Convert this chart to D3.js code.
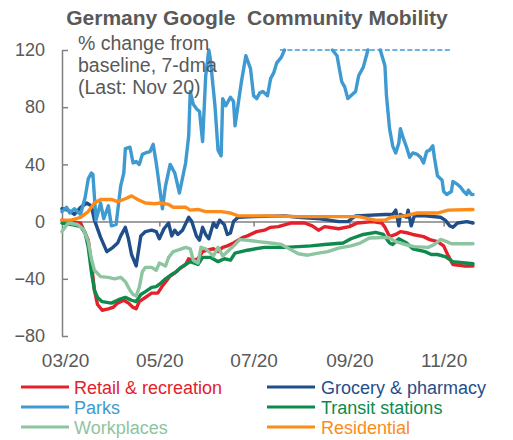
<!DOCTYPE html>
<meta charset="utf-8">
<style>
  body {
    margin: 0;
    background: #fff;
  }

  svg {
    display: block;
    font-family: "Liberation Sans", Arial, sans-serif;
  }

  .axis text {
    fill: #595959;
  }

  .axis path,
  .axis line {
    stroke: #808080;
    stroke-width: 1.5px;
  }

  .series {
    fill: none;
    stroke-width: 3.4px;
    stroke-linejoin: round;
    stroke-linecap: round;
  }
</style>
<body>
  <div id="chart"></div>
  <script src="https://d3js.org/d3.v7.min.js"></script>
  <script>

var width = 513,
    height = 440;

// % change from baseline, 7-dma as [MM-DD (2020), value]
var retail = [
  ["02-28", 1], ["03-04", 0], ["03-11", -1], ["03-16", -13], ["03-18", -29], ["03-20", -48],
  ["03-22", -58], ["03-25", -62], ["03-29", -61], ["04-01", -60], ["04-04", -57], ["04-08", -55],
  ["04-11", -57], ["04-14", -60], ["04-16", -61], ["04-18", -56], ["04-22", -53], ["04-26", -50],
  ["04-30", -50], ["05-03", -45], ["05-08", -38], ["05-11", -36], ["05-14", -33], ["05-18", -30],
  ["05-20", -26], ["05-23", -27], ["05-26", -26], ["05-29", -21], ["06-01", -20], ["06-05", -19],
  ["06-08", -21], ["06-11", -18], ["06-14", -17], ["06-18", -15], ["06-21", -13], ["06-24", -11],
  ["06-27", -10], ["07-03", -7], ["07-08", -6], ["07-12", -4], ["07-17", -3.5], ["07-25", -1],
  ["08-03", -1], ["08-08", -3], ["08-12", -6], ["08-16", -3.5], ["08-25", -5], ["09-01", -3.5],
  ["09-06", -1], ["09-16", 0], ["09-22", -1], ["09-24", -4], ["09-27", -10.5], ["10-01", -9],
  ["10-04", -7], ["10-09", -8], ["10-12", -9], ["10-19", -10.5], ["10-23", -12.6], ["10-28", -14],
  ["11-01", -17], ["11-04", -24], ["11-07", -30], ["11-14", -31], ["11-20", -31]
];

var grocery = [
  ["02-28", 9], ["03-03", 8], ["03-07", 5], ["03-11", 10], ["03-15", 13], ["03-18", 11],
  ["03-20", 1], ["03-24", -11], ["03-28", -21], ["04-01", -18], ["04-04", -15], ["04-06", -10],
  ["04-09", -4], ["04-11", -12], ["04-13", -23], ["04-16", -31], ["04-19", -10], ["04-22", -7],
  ["04-26", -6], ["04-29", -7], ["05-01", -12], ["05-04", -5], ["05-07", -1], ["05-09", -10],
  ["05-11", -6], ["05-13", -9], ["05-16", -6], ["05-20", 3], ["05-22", 0], ["05-25", -10],
  ["05-27", -13], ["05-29", -4], ["05-31", -9], ["06-02", -12], ["06-05", -1], ["06-07", -4],
  ["06-09", 1], ["06-12", -2], ["06-14", -9], ["06-16", -8], ["06-18", 0], ["06-21", 3],
  ["07-01", 3.5], ["07-21", 4], ["07-30", 3], ["08-13", 2], ["08-25", 0], ["08-31", 0],
  ["09-05", 4], ["09-24", 5], ["09-29", 5], ["10-01", 8], ["10-03", -3], ["10-04", 5],
  ["10-08", 3], ["10-09", 8], ["10-11", -3], ["10-13", 4], ["10-20", 4], ["10-30", 3],
  ["11-02", 1], ["11-05", -3], ["11-07", -4], ["11-10", -1], ["11-16", 0], ["11-20", -1]
];

// null = above the 120 axis limit, not drawn
var parks = [
  ["02-28", 7], ["03-02", 10], ["03-04", 6], ["03-07", 9], ["03-11", 5], ["03-14", 17],
  ["03-16", 30], ["03-18", 34], ["03-19", 33], ["03-21", 1], ["03-24", 13], ["03-26", 2],
  ["03-29", 11], ["03-31", -3], ["04-03", -2], ["04-06", 25], ["04-08", 34], ["04-09", 51],
  ["04-12", 52], ["04-14", 41], ["04-16", 42], ["04-18", 40], ["04-20", 47], ["04-22", 48],
  ["04-25", 49], ["04-27", 54], ["04-29", 41], ["05-01", 25], ["05-03", 9], ["05-05", 25],
  ["05-08", 40], ["05-11", 34], ["05-14", 20], ["05-18", 41], ["05-20", 60], ["05-21", 91],
  ["05-23", 82], ["05-25", 79], ["05-27", 77], ["05-29", 56], ["05-31", 102], ["06-02", 120],
  ["06-03", 114], ["06-06", 81], ["06-08", 50], ["06-10", 46], ["06-11", 86], ["06-13", 81],
  ["06-16", 87], ["06-18", 84], ["06-19", 67], ["06-21", 82], ["06-23", 97], ["06-26", 116],
  ["06-29", 107], ["07-01", 88], ["07-03", 86], ["07-05", 90], ["07-07", 91], ["07-10", 88],
  ["07-12", 100], ["07-14", 104], ["07-16", 111], ["07-19", 115], ["07-21", 120], ["08-01", null],
  ["08-21", 120], ["08-24", 116], ["08-27", 98], ["08-29", 94], ["08-31", 86], ["09-03", 89],
  ["09-05", 91], ["09-07", 102], ["09-10", 108], ["09-12", 116], ["09-13", 120], ["09-17", null],
  ["09-21", 120], ["09-24", 109], ["09-25", 88], ["09-27", 65], ["09-29", 53], ["10-01", 48],
  ["10-03", 55], ["10-04", 65], ["10-06", 58], ["10-08", 52], ["10-10", 45], ["10-12", 48],
  ["10-15", 47], ["10-17", 45], ["10-19", 41], ["10-21", 49], ["10-23", 50], ["10-25", 53],
  ["10-26", 45], ["10-28", 32], ["10-31", 29], ["11-01", 21], ["11-03", 19], ["11-06", 21],
  ["11-07", 28], ["11-10", 26], ["11-12", 24], ["11-14", 21], ["11-16", 19], ["11-17", 22],
  ["11-19", 19], ["11-20", 19]
];

var transit = [
  ["02-28", -1], ["03-05", -2], ["03-11", -3.5], ["03-14", -8], ["03-16", -18], ["03-18", -35],
  ["03-20", -48], ["03-22", -53], ["03-25", -56], ["03-31", -57], ["04-06", -54], ["04-09", -53],
  ["04-13", -55], ["04-16", -56], ["04-19", -51], ["04-22", -49], ["04-26", -46], ["04-29", -45.5],
  ["05-02", -43], ["05-05", -40], ["05-09", -37], ["05-12", -35], ["05-15", -32], ["05-18", -30],
  ["05-21", -28], ["05-26", -30], ["05-29", -25], ["06-03", -25], ["06-08", -28], ["06-12", -26],
  ["06-16", -27], ["06-19", -22], ["06-27", -20], ["07-08", -18], ["07-21", -18], ["07-30", -17.5],
  ["08-07", -17], ["08-16", -16], ["08-28", -15], ["09-02", -12], ["09-10", -9], ["09-18", -7.5],
  ["09-23", -9], ["09-27", -15], ["09-29", -16], ["10-03", -12], ["10-08", -15], ["10-12", -19],
  ["10-20", -21], ["10-24", -23], ["10-28", -23], ["11-02", -24.5], ["11-07", -28], ["11-20", -29.5]
];

var workplaces = [
  ["02-28", -7], ["03-03", -1], ["03-09", -2], ["03-13", -5.6], ["03-16", -14], ["03-18", -26],
  ["03-20", -34], ["03-24", -38.5], ["03-29", -39], ["04-02", -40], ["04-06", -39], ["04-09", -42],
  ["04-12", -48], ["04-14", -51], ["04-16", -52], ["04-18", -46], ["04-20", -35], ["04-22", -32],
  ["04-26", -32], ["04-29", -34], ["05-01", -29], ["05-05", -31], ["05-07", -25], ["05-10", -21],
  ["05-14", -19.6], ["05-18", -18], ["05-21", -19], ["05-23", -27], ["05-26", -29], ["05-28", -18],
  ["05-31", -19], ["06-05", -24], ["06-08", -18], ["06-11", -24], ["06-14", -21], ["06-19", -16],
  ["06-22", -12.6], ["06-27", -13], ["07-04", -14], ["07-12", -15], ["07-19", -16], ["07-25", -19.6],
  ["07-30", -22.5], ["08-05", -23.5], ["08-12", -22], ["08-18", -21], ["08-25", -18.5], ["09-02", -17],
  ["09-08", -15], ["09-14", -11.5], ["09-26", -11], ["10-01", -14], ["10-07", -16], ["10-13", -17.5],
  ["10-22", -18], ["10-26", -16], ["10-30", -12.5], ["11-03", -14], ["11-06", -15.5], ["11-20", -15.5]
];

var residential = [
  ["02-28", 1], ["03-05", 1], ["03-11", 3], ["03-16", 7], ["03-20", 13], ["03-24", 15.5],
  ["03-31", 15.5], ["04-04", 14], ["04-09", 16], ["04-13", 18], ["04-17", 15.5], ["04-22", 13],
  ["04-28", 12.5], ["05-02", 13], ["05-07", 12], ["05-10", 10], ["05-18", 10], ["05-21", 8],
  ["05-26", 8.5], ["05-31", 7], ["06-10", 7], ["06-16", 6], ["06-21", 4], ["07-08", 4],
  ["07-30", 3.5], ["08-28", 3.5], ["09-07", 3.5], ["09-18", 1], ["09-24", 1], ["09-28", 3],
  ["10-07", 4], ["10-15", 6], ["10-28", 6], ["11-04", 8], ["11-20", 8.5]
];

// Parks runs past the axis top: dashed marker at the 120 limit
var parksCap = [["07-18", 120], ["11-06", 120]];

var seriesNames = ["Retail & recreation", "Grocery & pharmacy", "Parks",
                   "Transit stations", "Workplaces", "Residential"];
var seriesData = [retail, grocery, parks, transit, workplaces, residential];
var seriesColors = ["#e4212b", "#1f4e8a", "#3e9ad0", "#0e8a4e", "#8dc5a0", "#fd8b19"];

var yTicks = [-80, -40, 0, 40, 80, 120];
var xTicks = ["03-01", "05-01", "07-01", "09-01", "11-01"];

var parseDay = d3.utcParse("%Y-%m-%d");
function day(s) { return parseDay("2020-" + s); }

var x = d3.scaleUtc()
  .domain([day("02-28"), day("11-20")])
  .range([62, 473]);

var y = d3.scaleLinear()
  .domain([-80, 120])
  .range([336, 50]);

var svg = d3.select("#chart")
  .append("svg")
  .attr("width", width)
  .attr("height", height);

svg.append("text")
  .attr("x", 257)
  .attr("y", 25)
  .attr("text-anchor", "middle")
  .attr("xml:space", "preserve")
  .style("white-space", "pre")
  .style("font-size", "21px")
  .style("font-weight", "bold")
  .attr("fill", "#595959")
  .text("Germany Google  Community Mobility");

// zero line with the bi-monthly ticks
svg.append("g")
  .attr("class", "axis")
  .attr("transform", "translate(0," + y(0) + ")")
  .call(d3.axisBottom(x)
    .tickValues(xTicks.map(day))
    .tickSize(5)
    .tickSizeOuter(0)
    .tickFormat(""));

// date labels sit under the plot
svg.append("g")
  .attr("class", "axis")
  .attr("transform", "translate(0,353)")
  .call(d3.axisBottom(x)
    .tickValues(xTicks.map(day))
    .tickSize(0)
    .tickPadding(0)
    .tickFormat(d3.utcFormat("%m/%y")))
  .attr("font-family", null)
  .attr("font-size", "19px")
  .call(function(g) { g.select(".domain").remove(); });

svg.append("g")
  .attr("class", "axis")
  .attr("transform", "translate(62,0)")
  .call(d3.axisLeft(y)
    .tickValues(yTicks)
    .tickSize(-6)
    .tickSizeOuter(0)
    .tickPadding(17))
  .attr("font-family", null)
  .attr("font-size", "18px");

svg.append("path")
  .datum(parksCap)
  .attr("fill", "none")
  .attr("stroke", seriesColors[2])
  .attr("stroke-width", 1.6)
  .attr("stroke-dasharray", "5,2.5")
  .attr("d", d3.line()
    .x(function(d) { return x(day(d[0])); })
    .y(function(d) { return y(d[1]); }));

var line = d3.line()
  .defined(function(d) { return d[1] != null; })
  .x(function(d) { return x(day(d[0])); })
  .y(function(d) { return y(d[1]); });

svg.selectAll(".series")
  .data(seriesData)
  .enter().append("path")
  .attr("class", "series")
  .attr("stroke", function(d, i) { return seriesColors[i]; })
  .attr("d", line);

// note in the top left corner
var note = svg.append("text")
  .attr("x", 78)
  .attr("fill", "#595959")
  .style("font-size", "19.5px");

["% change from", "baseline, 7-dma", "(Last: Nov 20)"].forEach(function(t, i) {
  note.append("tspan")
    .attr("x", 78)
    .attr("y", 50 + i * 22)
    .text(t);
});

// legend: 3 rows x 2 columns
var legend = svg.selectAll(".legend")
  .data(seriesNames)
  .enter().append("g")
  .attr("class", "legend")
  .attr("transform", function(d, i) {
    return "translate(" + (i % 2 ? 267 : 21) + "," + (387 + Math.floor(i / 2) * 20) + ")";
  });

legend.append("line")
  .attr("x1", 0)
  .attr("x2", 48)
  .attr("stroke", function(d, i) { return seriesColors[i]; })
  .attr("stroke-width", 3);

legend.append("text")
  .attr("x", function(d, i) { return i % 2 ? 54 : 53; })
  .attr("y", 6.5)
  .attr("fill", function(d, i) { return seriesColors[i]; })
  .style("font-size", "18px")
  .text(function(d) { return d; });

  </script>
</body>
